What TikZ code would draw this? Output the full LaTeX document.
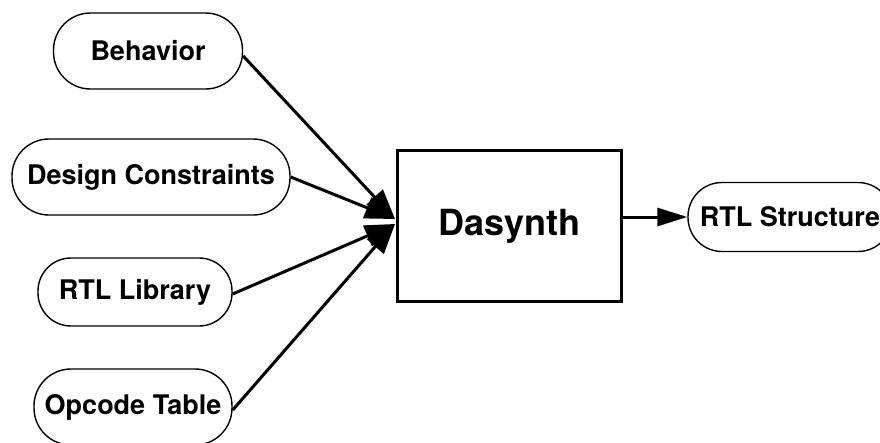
\documentclass[tikz,border=0pt]{standalone}
\usepackage{fontspec}
\setmainfont{TeX Gyre Heros}
\usetikzlibrary{arrows.meta,positioning}
\tikzstyle{l1}=[line width=1.4pt]
\tikzstyle{l3}=[line width=3pt]
\tikzstyle{inp}=[draw=black, l1, rounded corners=37pt, inner sep=0pt, minimum height=76pt, font=\fontsize{27}{31}\selectfont\bfseries]
\tikzstyle{tool}=[draw=black, l3, inner sep=0pt, minimum width=224pt, minimum height=151pt, font=\fontsize{36}{40}\selectfont\bfseries]
\tikzstyle{bigarr}=[l3, -{Triangle[length=30pt,width=22pt]}]
\tikzstyle{smallarr}=[l3, -{Triangle[length=30pt,width=18pt]}]

\begin{document}
\begin{tikzpicture}[x=1pt, y=-1pt]
    \useasboundingbox (0,0) rectangle (880,442);

    % inputs on the left
    \node[inp, minimum width=189pt] at (148, 51) (beh) {Behavior};
    \node[inp, minimum width=278pt] at (151, 177) (dcon) {Design Constraints};
    \node[inp, minimum width=194pt, minimum height=68pt, rounded corners=33pt] at (135, 292) (lib) {RTL Library};
    \node[inp, minimum width=198pt] at (133, 407) (opc) {Opcode Table};

    % synthesis tool and its output
    \node[tool] at (509.5, 226) (ds) {\raisebox{5pt}{Dasynth}};
    \node[inp, minimum width=204pt, minimum height=69pt, rounded corners=34pt] at (790, 217) (rtls) {RTL Structure};

    \coordinate (hitA) at (395, 219);
    \coordinate (hitB) at (395, 224);

    \draw[bigarr] ([yshift=-5pt]beh.east) -- (hitA);
    \draw[bigarr] (dcon.east) -- (hitA);
    \draw[bigarr] ([yshift=-2pt]lib.east) -- (hitB);
    \draw[bigarr] ([yshift=-3pt]opc.east) -- (hitB);
    \draw[smallarr] (ds.east |- rtls.west) -- (rtls.west);
\end{tikzpicture}
\end{document}
